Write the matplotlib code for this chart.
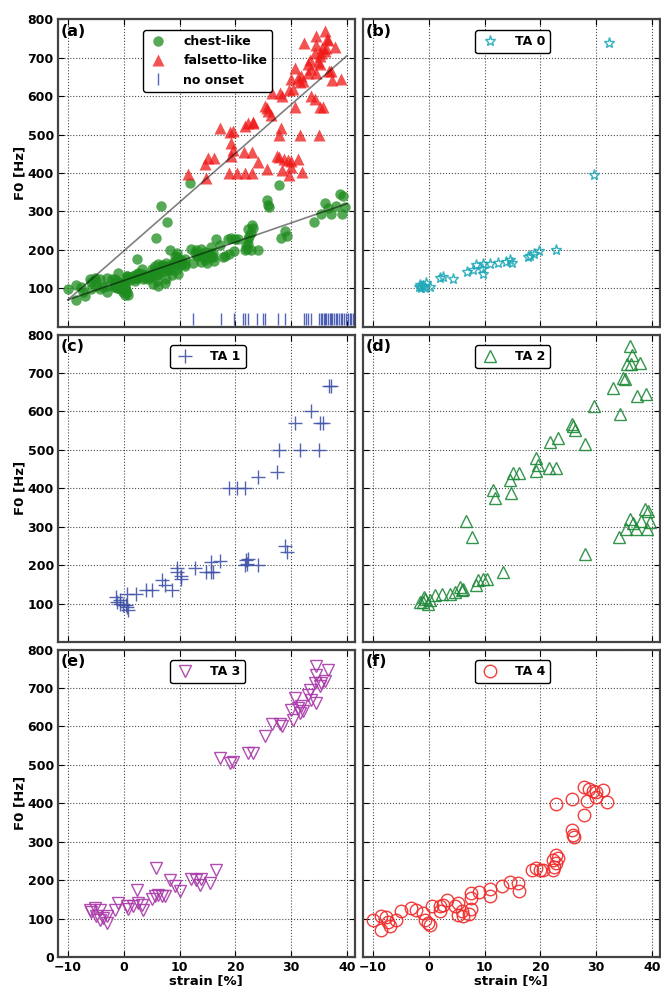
import matplotlib
matplotlib.use("Agg")
import matplotlib.pyplot as plt
import numpy as np

plt.rcParams['font.family'] = ['DejaVu Sans']
plt.rcParams['font.weight'] = 'bold'
plt.rcParams['axes.labelweight'] = 'bold'

# strain [%] and F0 [Hz] per TA activation level
ta0_strain = [32.3, 29.6, 22.8, 19.8, 18.8, 17.8, 18.2, 15.0, 14.5, 13.9, 12.4, 10.9, 9.7, 9.7,
              9.6, 8.5, 7.9, 6.8, 4.4, 2.6, 2.0, -0.4, -1.0, -1.6, -0.7, -1.3, -1.8, 0.2]
ta0_f0 = [737, 394, 199, 198, 190, 180, 185, 166, 173, 169, 165, 163, 163, 136,
          150, 160, 147, 143, 124, 130, 126, 113, 107, 109, 100, 100, 104, 104]

ta1_strain = [37.1, 36.8, 33.5, 35.2, 35.7, 30.6, 27.8, 31.5, 35.0, 27.5, 24.0, 18.9, 20.3, 21.7,
              28.9, 29.3, 21.9, 22.3, 22.0, 24.0, 21.7, 17.2, 15.6, 15.6, 14.7, 16.0, 12.7, 9.6,
              9.6, 10.2, 10.3, 8.7, 6.9, 7.3, 5.0, 3.9, 2.2, 0.5, -1.4, -1.3, -0.7, -0.1, 0.4,
              0.8, 0.6, -0.6]
ta1_f0 = [665, 665, 600, 571, 571, 571, 500, 500, 500, 443, 429, 400, 400, 400,
          250, 235, 213, 215, 203, 200, 200, 212, 207, 181, 181, 181, 192, 192,
          181, 163, 173, 134, 160, 147, 134, 134, 126, 126, 117, 104, 100, 95, 95,
          83, 91, 109]

ta2_strain = [36.0, 36.4, 35.6, 36.3, 37.8, 34.9, 35.1, 33.0, 37.4, 38.9, 29.6, 34.2, 25.7, 25.9,
              26.3, 28.1, 21.7, 23.1, 19.3, 19.6, 19.3, 21.6, 22.9, 15.1, 16.2, 14.5, 11.5, 11.9,
              14.7, 6.6, 7.8, 13.3, 28.1, 34.1, 35.4, 36.0, 36.6, 37.2, 38.1, 38.7, 39.3, 39.1,
              39.7, 8.8, 9.7, 10.5, 8.5, 5.6, 5.9, 6.2, 4.7, 3.8, 2.3, 1.1, 0.2, -0.7, -1.1,
              -1.6, -0.1, -0.8]
ta2_f0 = [770, 748, 724, 724, 727, 688, 684, 660, 641, 645, 615, 592, 568, 561,
          551, 516, 521, 532, 478, 461, 444, 454, 454, 439, 439, 422, 396, 375,
          388, 315, 272, 183, 230, 272, 293, 321, 310, 294, 314, 345, 340, 293,
          312, 162, 164, 164, 147, 142, 134, 138, 130, 126, 126, 121, 108, 111, 104,
          105, 100, 117]

ta3_strain = [34.5, 36.6, 34.4, 34.2, 35.4, 36.0, 35.1, 33.3, 33.0, 33.6, 34.5, 30.6, 30.0, 31.2,
              31.8, 32.1, 31.5, 30.3, 28.0, 28.4, 26.5, 25.3, 23.2, 22.3, 17.2, 19.0, 19.6,
              16.6, 15.4, 13.9, 13.0, 12.1, 13.6, 10.0, 9.1, 8.2, 5.7, 7.3, 6.8, 6.2, 5.6, 5.0,
              2.3, 2.6, 1.7, 0.5, 0.8, -1.0, -1.6, 3.5, 3.2, -4.3, -3.1, -3.0, -4.3, -6.1,
              -5.8, -4.9, -3.7, -5.2]
ta3_f0 = [756, 747, 734, 713, 713, 717, 704, 695, 683, 670, 661, 674, 644, 648,
          652, 640, 636, 618, 607, 601, 607, 575, 530, 530, 517, 506, 508,
          227, 192, 202, 200, 202, 188, 171, 185, 200, 231, 158, 159, 162, 158, 151,
          175, 140, 132, 132, 125, 140, 123, 123, 136, 97, 106, 89, 123, 123,
          116, 106, 102, 127]

ta4_strain = [27.8, 28.7, 29.5, 30.0, 31.2, 28.4, 29.9, 32.0, 25.7, 22.9, 27.8, 25.7, 25.9, 26.0,
              22.9, 23.2, 22.3, 22.8, 22.4, 22.2, 20.5, 19.3, 18.6, 20.0, 16.1, 16.0, 14.5, 13.1,
              10.9, 10.9, 9.0, 7.5, 7.5, 7.6, 7.3, 6.2, 5.9, 5.3, 5.3, 4.7, 3.2, 2.6, 2.0, 2.0,
              0.5, 0.2, -0.1, -0.7, -1.1, -2.2, -3.1, -5.0, -5.8, -7.0, -7.3, -7.7, -8.5, -8.5,
              -10.0]
ta4_f0 = [442, 436, 433, 430, 435, 407, 416, 403, 410, 399, 369, 330, 317, 311,
          265, 257, 253, 244, 235, 227, 227, 231, 227, 227, 171, 192, 194, 184,
          177, 159, 168, 166, 154, 125, 113, 106, 119, 141, 110, 132, 149, 136, 134, 119,
          132, 82, 89, 97, 115, 123, 127, 119, 97, 80, 90, 104, 108, 70,
          97]

# strain of the runs without phonation onset
no_onset_strain = [12.4, 17.4, 19.7, 21.4, 21.8, 22.3, 23.8, 25.0, 25.4, 27.7, 28.9, 32.3, 32.6,
                   33.0, 33.5, 35.0, 35.3, 35.5, 35.8, 36.1, 36.3, 36.6, 36.9, 37.2, 37.4, 37.7,
                   38.0, 38.2, 38.5, 38.9, 39.2, 39.5, 39.8, 40.1, 40.5, 40.8, 41.0]
no_onset_f0 = 20

# linear fits (strain at both ends, F0 at both ends)
fit_strain = [-10, 40]
fit_chest = [70, 320]
fit_falsetto = [70, 705]

register_split = 385  # Hz

series = [
    ('TA 0', ta0_strain, ta0_f0, '*', '#1fa9b8', 8),
    ('TA 1', ta1_strain, ta1_f0, '+', '#4153a8', 10),
    ('TA 2', ta2_strain, ta2_f0, '^', '#1f8a3a', 9),
    ('TA 3', ta3_strain, ta3_f0, 'v', '#a93aa9', 9),
    ('TA 4', ta4_strain, ta4_f0, 'o', '#f02a2a', 9),
]

fig = plt.figure(figsize=(6.61, 9.86), dpi=100)

col_left = [0.0877, 0.549]
col_w = 0.449
row_bottom = [0.6687, 0.3489, 0.0294]
row_h = 0.3118

axes = []
for r in range(3):
    for c in range(2):
        ax = fig.add_axes([col_left[c], row_bottom[r], col_w, row_h])
        axes.append(ax)

all_x = np.concatenate([np.array(s[1]) for s in series])
all_y = np.concatenate([np.array(s[2]) for s in series])
chest = all_y < register_split

ax = axes[0]
ax.plot(fit_strain, fit_chest, color='k', alpha=0.5, lw=1.2, zorder=4)
ax.plot(fit_strain, fit_falsetto, color='k', alpha=0.5, lw=1.2, zorder=4)
ax.plot(all_x[chest], all_y[chest], 'o', color='#1e8c1e', alpha=0.75, ms=7.5, mec='none',
        label='chest-like', zorder=3)
ax.plot(all_x[~chest], all_y[~chest], '^', color='#f01818', alpha=0.75, ms=8, mec='none',
        label='falsetto-like', zorder=3)
ax.plot(no_onset_strain, [no_onset_f0] * len(no_onset_strain), '|', color='#2a3fa8',
        alpha=0.8, ms=9, mew=1.0, label='no onset', zorder=3)

for ax, (name, xs, ys, mk, col, ms) in zip(axes[1:], series):
    if mk == '+':
        ax.plot(xs, ys, mk, color=col, ms=ms, mew=1.0, alpha=0.9, label=name)
    else:
        ax.plot(xs, ys, mk, mfc='none', mec=col, ms=ms, mew=1.0, alpha=0.9, label=name)

letters = ['(a)', '(b)', '(c)', '(d)', '(e)', '(f)']
for i, ax in enumerate(axes):
    r, c = divmod(i, 2)
    ax.set_xlim(-11.8, 41.4)
    ax.set_ylim(0, 800)
    ax.set_xticks([-10, 0, 10, 20, 30, 40])
    ax.set_yticks(range(0, 801, 100) if r == 2 else range(100, 801, 100))
    ax.grid(True, linestyle=':', color='k', lw=0.8, alpha=0.7)
    ax.set_axisbelow(True)
    ax.tick_params(direction='in', top=True, right=True, length=4, width=0.8,
                   labelsize=9, pad=3)
    for sp in ax.spines.values():
        sp.set_color('#444444')
        sp.set_linewidth(1.6)
    if c == 0:
        ax.set_ylabel('F0 [Hz]', fontsize=9.5, labelpad=1)
    else:
        ax.tick_params(labelleft=False)
    if r == 2:
        ax.set_xlabel('strain [%]', fontsize=9.5, labelpad=0)
        ax.set_xticklabels(['\u221210', '0', '10', '20', '30', '40'])
    else:
        ax.tick_params(labelbottom=False)
    ax.text(0.008, 0.985, letters[i], transform=ax.transAxes, ha='left', va='top',
            fontsize=11.5, fontweight='bold')
    leg = ax.legend(loc='upper center', bbox_to_anchor=(0.505, 0.985), numpoints=1,
                    prop={'size': 9, 'weight': 'bold'}, fancybox=True, framealpha=1,
                    handlelength=1.6, handletextpad=1.2, borderpad=0.4, labelspacing=0.5)
    leg.get_frame().set_edgecolor('k')
    leg.get_frame().set_linewidth(1.0)

fig.savefig('out.png', dpi=100)
